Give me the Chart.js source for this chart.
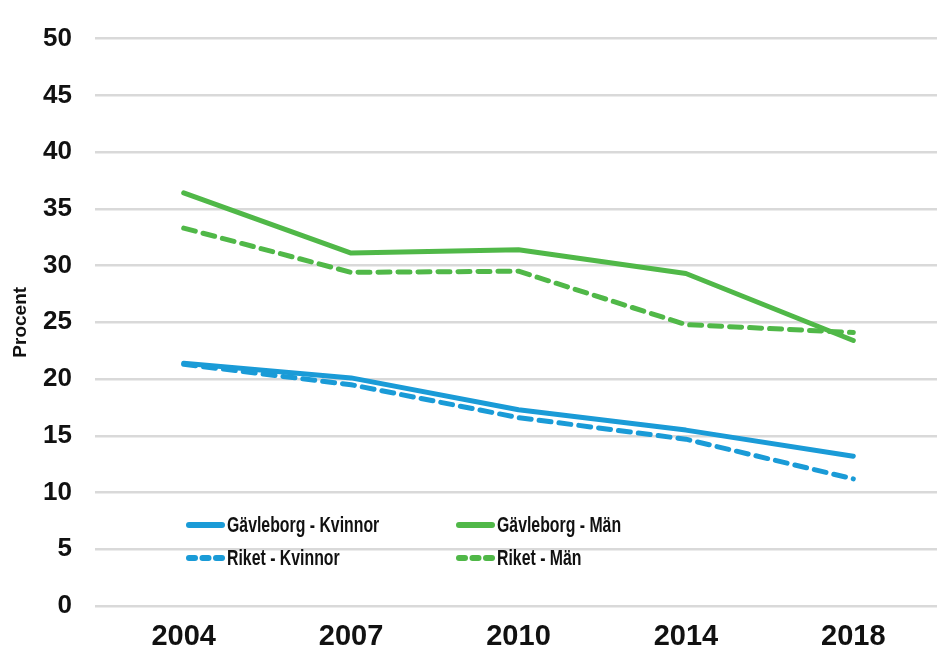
<!DOCTYPE html>
<html>
<head>
<meta charset="utf-8">
<script src="https://cdn.jsdelivr.net/npm/chart.js@4"></script>
<style>
html,body{margin:0;padding:0;background:#fff;}
#wrap{width:937px;height:652px;position:relative;}
</style>
</head>
<body>
<div id="wrap"><canvas id="c"></canvas></div>
<script>
const categories = ['2004', '2007', '2010', '2014', '2018'];
const gavleborgKvinnor = [21.4, 20.1, 17.3, 15.5, 13.2];
const riketKvinnor = [21.3, 19.5, 16.6, 14.7, 11.2];
const gavleborgMan = [36.4, 31.1, 31.4, 29.3, 23.4];
const riketMan = [33.3, 29.4, 29.5, 24.8, 24.1];
const yAxisTitle = 'Procent';

const BLUE = '#1A9BD7';
const GREEN = '#50B848';
const DASH = [12, 8];
const FONT = "'Liberation Sans', Arial, sans-serif";

const legendPlugin = {
  id: 'insideLegend',
  afterDatasetsDraw(chart) {
    const ctx = chart.ctx;
    const pos = [
      {x: 186, y: 525}, {x: 186, y: 558}, {x: 456, y: 525}, {x: 456, y: 558}
    ];
    chart.data.datasets.forEach((ds, i) => {
      const p = pos[i];
      ctx.save();
      ctx.strokeStyle = ds.borderColor;
      ctx.lineWidth = 6;
      ctx.lineCap = 'round';
      if (ds.borderDash && ds.borderDash.length) {
        for (let k = 0; k < 3; k++) {
          ctx.beginPath();
          ctx.moveTo(p.x + 3 + k * 13.5, p.y);
          ctx.lineTo(p.x + 9 + k * 13.5, p.y);
          ctx.stroke();
        }
      } else {
        ctx.beginPath();
        ctx.moveTo(p.x + 3, p.y);
        ctx.lineTo(p.x + 36, p.y);
        ctx.stroke();
      }
      ctx.fillStyle = '#111';
      ctx.font = 'bold 22px ' + FONT;
      ctx.textBaseline = 'middle';
      ctx.textAlign = 'left';
      ctx.translate(p.x + 41, p.y + 1);
      ctx.scale(0.72, 1);
      ctx.fillText(ds.label, 0, 0);
      ctx.restore();
    });
  }
};

new Chart(document.getElementById('c'), {
  type: 'line',
  data: {
    labels: categories,
    datasets: [
      {label: 'Gävleborg - Kvinnor', data: gavleborgKvinnor, borderColor: BLUE, borderWidth: 5, pointRadius: 0, tension: 0, borderCapStyle: 'round', borderJoinStyle: 'round'},
      {label: 'Riket - Kvinnor', data: riketKvinnor, borderColor: BLUE, borderWidth: 5, pointRadius: 0, tension: 0, borderDash: DASH, borderCapStyle: 'round', borderJoinStyle: 'round'},
      {label: 'Gävleborg - Män', data: gavleborgMan, borderColor: GREEN, borderWidth: 5, pointRadius: 0, tension: 0, borderCapStyle: 'round', borderJoinStyle: 'round'},
      {label: 'Riket - Män', data: riketMan, borderColor: GREEN, borderWidth: 5, pointRadius: 0, tension: 0, borderDash: DASH, borderCapStyle: 'round', borderJoinStyle: 'round'}
    ]
  },
  options: {
    responsive: true,
    maintainAspectRatio: false,
    animation: false,
    layout: {padding: {top: 27, right: 0, left: 0, bottom: 0}},
    plugins: {legend: {display: false}, tooltip: {enabled: false}},
    scales: {
      x: {
        offset: true,
        grid: {display: false, drawTicks: false},
        border: {display: false},
        ticks: {color: '#111', font: {family: FONT, size: 29, weight: 'bold'}, padding: 14, maxRotation: 0},
        afterFit(s) { s.height = 46; }
      },
      y: {
        min: 0, max: 50,
        grid: {color: '#D9D9D9', lineWidth: 2.5, drawTicks: true, tickLength: 5, tickColor: '#D9D9D9'},
        border: {display: false},
        ticks: {stepSize: 5, color: '#111', font: {family: FONT, size: 26, weight: 'bold'}, padding: 23},
        title: {display: true, text: yAxisTitle, color: '#111', font: {family: FONT, size: 19, weight: 'bold'}, padding: {top: 9, bottom: 0}},
        afterFit(s) { s.width = 100; }
      }
    }
  },
  plugins: [legendPlugin]
});
</script>
</body>
</html>
